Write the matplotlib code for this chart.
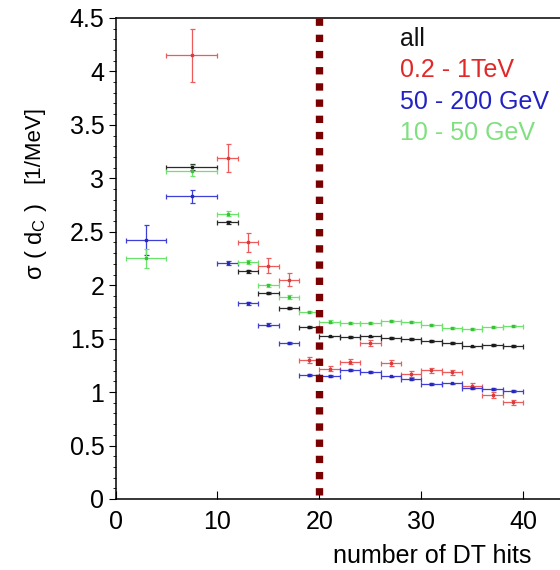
import matplotlib
matplotlib.use("Agg")
import matplotlib.pyplot as plt

plt.rcParams['font.family'] = ['Liberation Sans', 'DejaVu Sans']
plt.rcParams['mathtext.fontset'] = 'custom'
plt.rcParams['mathtext.rm'] = 'Liberation Sans'
plt.rcParams['mathtext.it'] = 'Liberation Sans:italic'

# sigma(d_C) versus number of DT hits, for all tracks and three momentum ranges
all_x = [7.5, 11, 13, 15, 17, 19, 21, 23, 25, 27, 29, 31, 33, 35, 37, 39]
all_xerr = [2.5, 1, 1, 1, 1, 1, 1, 1, 1, 1, 1, 1, 1, 1, 1, 1]
all_y = [3.105, 2.59, 2.13, 1.93, 1.79, 1.605, 1.521, 1.515, 1.521, 1.509,
         1.497, 1.481, 1.459, 1.427, 1.443, 1.434]
all_yerr = [0.03, 0.015, 0.012, 0.01, 0.01, 0.01, 0.008, 0.008, 0.008, 0.008,
            0.008, 0.008, 0.008, 0.008, 0.008, 0.008]

tev_x = [7.5, 11, 13, 15, 17, 19, 21, 23, 25, 27, 29, 31, 33, 35, 37, 39]
tev_xerr = [2.5, 1, 1, 1, 1, 1, 1, 1, 1, 1, 1, 1, 1, 1, 1, 1]
tev_y = [4.15, 3.19, 2.40, 2.18, 2.05, 1.30, 1.218, 1.284, 1.459, 1.272,
         1.169, 1.203, 1.184, 1.059, 0.972, 0.903]
tev_yerr = [0.25, 0.13, 0.085, 0.07, 0.06, 0.03, 0.025, 0.025, 0.025, 0.025,
            0.025, 0.025, 0.025, 0.025, 0.025, 0.025]

gev200_x = [3, 7.5, 11, 13, 15, 17, 19, 21, 23, 25, 27, 29, 31, 33, 35, 37, 39]
gev200_xerr = [2, 2.5, 1, 1, 1, 1, 1, 1, 1, 1, 1, 1, 1, 1, 1, 1, 1]
gev200_y = [2.42, 2.83, 2.21, 1.83, 1.63, 1.46, 1.16, 1.15, 1.206, 1.187,
            1.146, 1.122, 1.078, 1.081, 1.037, 1.028, 1.009]
gev200_yerr = [0.14, 0.065, 0.02, 0.015, 0.012, 0.012, 0.01, 0.008, 0.008, 0.008,
               0.008, 0.008, 0.008, 0.008, 0.008, 0.008, 0.008]

gev50_x = [3, 7.5, 11, 13, 15, 17, 19, 21, 23, 25, 27, 29, 31, 33, 35, 37, 39]
gev50_xerr = [2, 2.5, 1, 1, 1, 1, 1, 1, 1, 1, 1, 1, 1, 1, 1, 1, 1]
gev50_y = [2.25, 3.07, 2.67, 2.22, 2.0, 1.89, 1.75, 1.66, 1.643, 1.65,
           1.665, 1.653, 1.628, 1.596, 1.59, 1.609, 1.615]
gev50_yerr = [0.09, 0.05, 0.025, 0.02, 0.015, 0.015, 0.012, 0.01, 0.01, 0.01,
              0.01, 0.01, 0.01, 0.01, 0.01, 0.01, 0.01]

labels = ['all', '0.2 - 1TeV', '50 - 200 GeV', '10 - 50 GeV']
label_colors = ['#111111', '#e02828', '#2222c4', '#80e080']

cut_hits = 20

fig = plt.figure(figsize=(5.6, 5.7), dpi=100)
ax = fig.add_axes([0.2063, 0.1246, 0.819, 0.8439])

series = [
    (all_x, all_y, all_xerr, all_yerr, '#2a2a2a', '#1a1a1a'),
    (tev_x, tev_y, tev_xerr, tev_yerr, '#ec5c5c', '#dc3a3a'),
    (gev200_x, gev200_y, gev200_xerr, gev200_yerr, '#3e3ed8', '#2828b8'),
    (gev50_x, gev50_y, gev50_xerr, gev50_yerr, '#6ae46a', '#3cc03c'),
]
for x, y, xe, ye, c, mc in series:
    ax.errorbar(x, y, xerr=xe, yerr=ye, fmt='s', ms=2.0, color=c, mfc=mc, mec=mc,
                elinewidth=0.9, capsize=1.8, capthick=0.9)

# cut line at 20 hits
ax.plot([cut_hits, cut_hits], [4.5, 0], color='#7a0000', lw=5.3,
        linestyle=(0, (1.0, 1.2)), solid_capstyle='butt', clip_on=False, zorder=5)

ax.set_xlim(0, 45)
ax.set_ylim(0, 4.5)
ax.set_xticks([0, 10, 20, 30, 40])
ax.set_yticks([0, 0.5, 1, 1.5, 2, 2.5, 3, 3.5, 4, 4.5])
ax.set_yticklabels(['0', '0.5', '1', '1.5', '2', '2.5', '3', '3.5', '4', '4.5'])
ax.set_yticks([i / 10 for i in range(46)], minor=True)
ax.tick_params(axis='x', direction='in', length=6, width=0.8, labelsize=18, pad=8)
ax.tick_params(axis='y', which='major', direction='out', length=5, width=0.8,
               labelsize=18, pad=3)
ax.tick_params(axis='y', which='minor', direction='out', length=2.5, width=0.6)
for side in ['left', 'bottom', 'top']:
    ax.spines[side].set_linewidth(1.1)
ax.spines['right'].set_visible(False)

fig.text(531 / 560, 7 / 570, 'number of DT hits', ha='right', va='baseline', fontsize=18)
fig.text(36 / 560, (570 - 280) / 570, r'σ ( d$_{\mathrm{C}}$ )', rotation=90,
         ha='center', va='bottom', fontsize=17)
fig.text(33.5 / 560, (570 - 183) / 570, '[1/MeV]', rotation=90,
         ha='center', va='bottom', fontsize=16)

for i, (lab, col) in enumerate(zip(labels, label_colors)):
    fig.text(400 / 560, (570 - 46 - 31.3 * i) / 570, lab, color=col,
             fontsize=18, ha='left', va='baseline')

fig.savefig('out.png', dpi=100)
